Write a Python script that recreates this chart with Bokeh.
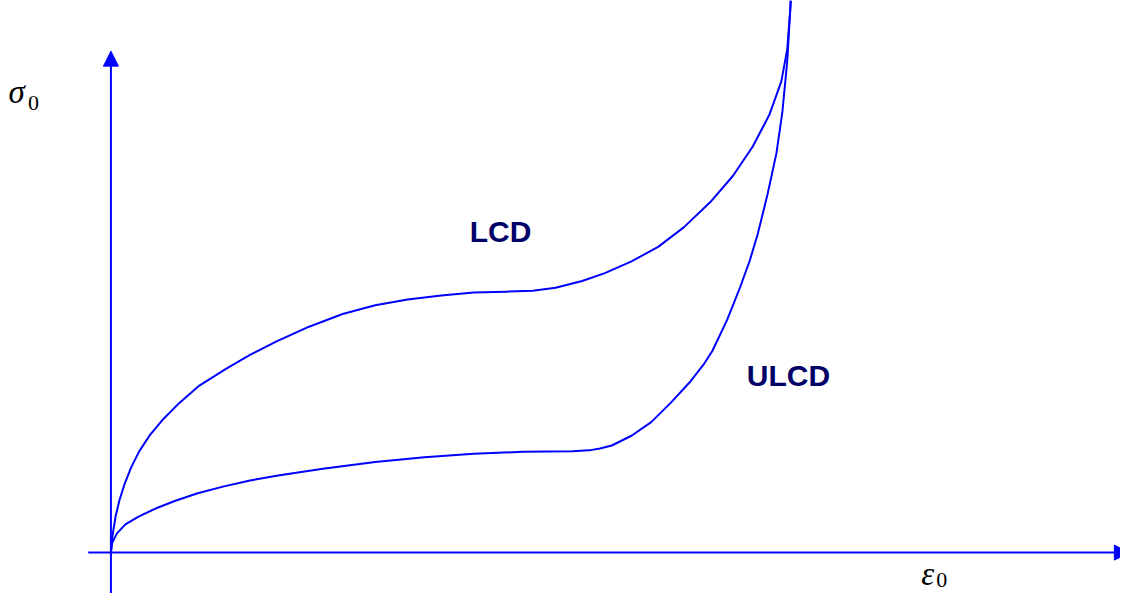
from bokeh.plotting import figure
from bokeh.models import Range1d, Arrow, NormalHead, ColumnDataSource
from bokeh.core.properties import value
from bokeh.embed import file_html
from bokeh.resources import INLINE

# Loading curve (LCD): strain / stress (arbitrary units)
lcd_strain = [0, 0.5, 2, 4.7, 8.7, 13.7, 20.3, 28.7, 39.7, 53, 69.7, 89.7, 116.3, 141, 168,
              201, 235, 268, 301, 335, 368, 401, 428, 451, 478, 501, 528, 555, 581, 608,
              631, 651, 668, 680, 686, 689, 689.5]
lcd_stress = [0, 7, 20, 37, 54, 70, 87, 104, 121, 137, 154, 171.5, 188.5, 203, 217,
              232, 245, 254, 260, 264, 267, 268, 269, 272, 279, 287, 299, 314, 334, 360,
              387, 417, 450, 484, 517, 557, 567]

# Unloading curve (ULCD)
ulcd_strain = [0, 1.3, 6.3, 14.7, 28, 44.7, 64.7, 88, 114.7, 141, 168, 188, 215, 268, 318,
               368, 418, 468, 485, 496, 508, 528, 548, 568, 588, 601, 610, 625, 638, 648,
               656, 666, 675, 681, 686, 689, 689.5]
ulcd_stress = [0, 10, 20, 29, 37, 45, 53, 61, 68, 74, 79, 82, 86, 93, 98,
               101.5, 103.5, 104, 105, 107, 110, 120, 134, 154, 176, 193, 207, 239, 272, 300,
               327, 368, 410, 452, 505, 557, 567]

curve_labels = ["LCD", "ULCD"]
label_x = [364, 645]
label_y = [330, 182]

p = figure(width=1120, height=593, output_backend="svg", toolbar_location=None,
           x_range=Range1d(-112, 1024), y_range=Range1d(-42, 567),
           x_axis_type=None, y_axis_type=None, min_border=0)
p.grid.visible = False
p.outline_line_color = None
p.background_fill_color = "white"
p.border_fill_color = "white"

blue = "#0000FF"

# axes with arrows
p.add_layout(Arrow(x_start=0, y_start=-50, x_end=0, y_end=515, line_color=blue, line_width=2,
                   end=NormalHead(size=15, fill_color=blue, line_color=blue)))
p.add_layout(Arrow(x_start=-23, y_start=0, x_end=1033, y_end=0, line_color=blue, line_width=2,
                   end=NormalHead(size=15, fill_color=blue, line_color=blue)))

p.line(lcd_strain, lcd_stress, line_color=blue, line_width=2, line_join="round")
p.line(ulcd_strain, ulcd_stress, line_color=blue, line_width=2, line_join="round")

src = ColumnDataSource(dict(x=label_x, y=label_y, t=curve_labels))
p.text(x="x", y="y", text="t", source=src, text_font=value("Liberation Sans"),
       text_font_style="bold", text_font_size="30px", text_color="#000066",
       text_baseline="alphabetic", text_align="left")

# axis symbols
p.text(x=[-104], y=[473], text=["σ"], text_font=value("Liberation Serif"),
       text_font_style="italic", text_font_size="33px", text_color="black",
       text_baseline="middle")
p.text(x=[-84], y=[462], text=["0"], text_font=value("Liberation Serif"),
       text_font_size="22px", text_color="black", text_baseline="middle")
p.text(x=[822], y=[-22], text=["ε"], text_font=value("Liberation Serif"),
       text_font_style="italic", text_font_size="33px", text_color="black",
       text_baseline="middle")
p.text(x=[837], y=[-28], text=["0"], text_font=value("Liberation Serif"),
       text_font_size="22px", text_color="black", text_baseline="middle")

open("out.html", "w").write(file_html(p, INLINE))
